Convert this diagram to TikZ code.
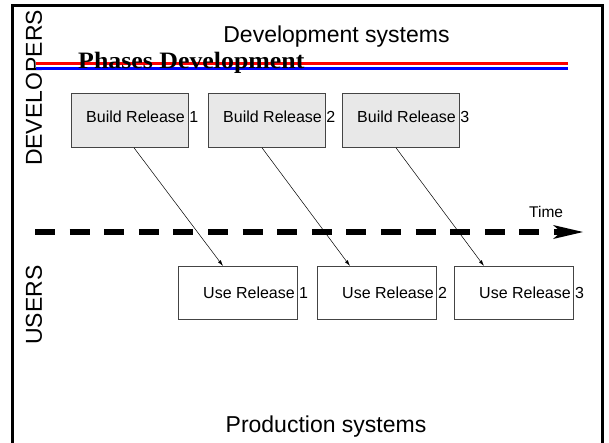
\documentclass[tikz,border=0pt]{standalone}
\usepackage{fontspec}
\setmainfont{Liberation Sans}
\newfontfamily\titleserif{Liberation Serif}
\usetikzlibrary{arrows.meta,calc}
\definecolor{boxgray}{HTML}{E8E8E8}
\definecolor{edgegray}{HTML}{444444}
\begin{document}
\begin{tikzpicture}[x=1pt,y=-1pt,
  buildbox/.style={draw=edgegray,fill=boxgray,line width=0.8pt,minimum width=117pt,minimum height=54pt,inner sep=0pt,anchor=north west},
  usebox/.style={draw=edgegray,fill=white,line width=0.8pt,minimum width=119pt,minimum height=53pt,inner sep=0pt,anchor=north west},
  lbl/.style={font=\fontsize{16}{18}\selectfont,anchor=base west,inner sep=0pt},
  big/.style={font=\fontsize{23}{26}\selectfont,inner sep=0pt},
  conn/.style={line width=0.5pt,-{Latex[length=6pt,width=3.5pt]}},
  frame/.style={line width=3pt}]
\useasboundingbox (0,0) rectangle (609,442);
% frame
\draw[frame] (12,443) -- (12,5) -- (602,5) -- (602,443);
% headings
\node[big,anchor=base] (devsys) at (336.5,42) {Development systems};
\node[big,anchor=base] (prodsys) at (326,432) {Production systems};
\node[big,rotate=90] (devs) at (34,88) {DEVELOPERS};
\node[big,rotate=90] (users) at (34,305) {USERS};
% phase lines
\draw[red,line width=2.5pt] (36,63.5) -- (568,63.5);
\draw[blue,line width=2.5pt] (36,68.5) -- (568,68.5);
\node[font=\titleserif\bfseries\fontsize{23.5}{26}\selectfont,anchor=base west,inner sep=0pt,xscale=1.1] (phases) at (78,68.5) {Phases Development};
% build boxes
\node[buildbox] (b1) at (71,93) {};
\node[buildbox] (b2) at (208,93) {};
\node[buildbox] (b3) at (342,93) {};
\node[lbl] (bt1) at (86,122.5) {Build Release 1};
\node[lbl] (bt2) at (223,122.5) {Build Release 2};
\node[lbl] (bt3) at (357,122.5) {Build Release 3};
% use boxes
\node[usebox] (u1) at (178,266) {};
\node[usebox] (u2) at (317,266) {};
\node[usebox] (u3) at (454,266) {};
\node[lbl] (ut1) at (203,298) {Use Release 1};
\node[lbl] (ut2) at (342,298) {Use Release 2};
\node[lbl] (ut3) at (479,298) {Use Release 3};
% time axis
\coordinate (tstart) at (35,232);
\coordinate (tend) at (583,232);
\draw[line width=6pt,dash pattern=on 20pt off 14.6pt,-{Stealth[length=30pt,width=14pt,inset=8pt,line width=0pt]}] (tstart) -- (tend);
\node[font=\fontsize{15.5}{17}\selectfont,anchor=base west,inner sep=0pt] (time) at (529,217) {Time};
% connectors
\draw[conn] ($(b1.south west)+(63,0)$) -- ($(u1.north west)+(45,0)$);
\draw[conn] ($(b2.south west)+(54,0)$) -- ($(u2.north west)+(33,0)$);
\draw[conn] ($(b3.south west)+(54,0)$) -- ($(u3.north west)+(30,0)$);
\end{tikzpicture}
\end{document}
